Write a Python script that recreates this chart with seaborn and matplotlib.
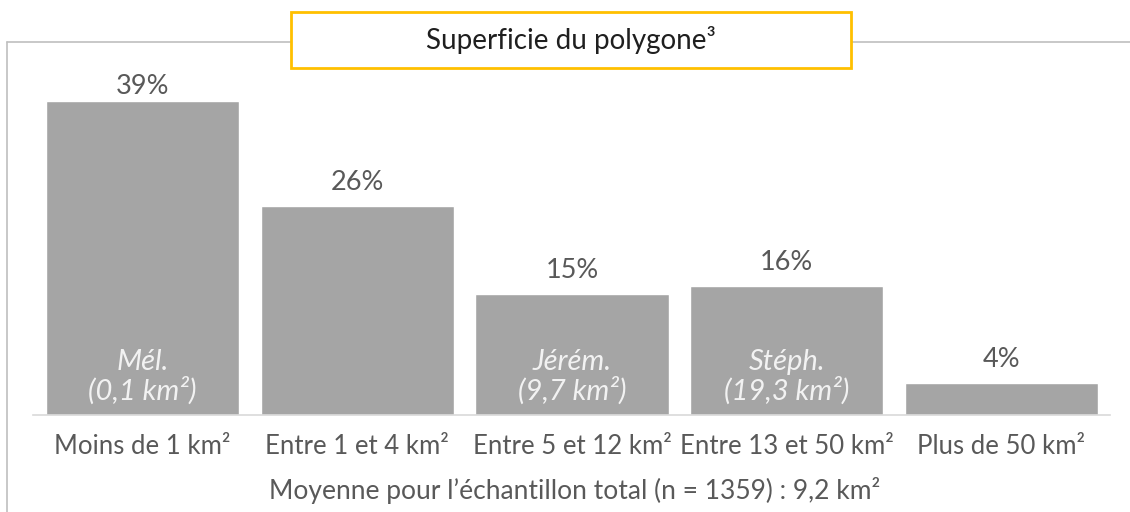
import matplotlib
matplotlib.use("Agg")
import matplotlib.pyplot as plt
import seaborn as sns
import pandas as pd
from matplotlib.patches import Rectangle
from matplotlib.lines import Line2D

categories = ["Moins de 1 km²", "Entre 1 et 4 km²", "Entre 5 et 12 km²", "Entre 13 et 50 km²", "Plus de 50 km²"]
values = [39, 26, 15, 16, 4]
value_labels = ["39%", "26%", "15%", "16%", "4%"]
inner_labels = ["Mél.\n(0,1 km²)", "", "Jérém.\n(9,7 km²)", "Stéph.\n(19,3 km²)", ""]
title = "Superficie du polygone³"
footnote = "Moyenne pour l’échantillon total (n = 1359) : 9,2 km²"

sns.set_theme(style="white")
plt.rcParams['font.family'] = ['Lato', 'DejaVu Sans']

W, H = 1130, 512
fig = plt.figure(figsize=(W / 100, H / 100), dpi=100)
# axes: x 33..1110 px, y 42..415 px
ax = fig.add_axes([33 / W, 1 - 415 / H, (1110 - 33) / W, (415 - 42) / H])

df = pd.DataFrame({"cat": categories, "val": values})
sns.barplot(data=df, x="cat", y="val", color="#a5a5a5", width=0.9, saturation=1, ax=ax)
ax.set_xlim(-0.51, 4.505)
ax.set_ylim(0, 46.3)

for s in ["top", "right", "left"]:
    ax.spines[s].set_visible(False)
ax.spines["bottom"].set_color("#d9d9d9")
ax.spines["bottom"].set_linewidth(1.2)
ax.set_yticks([])
ax.set_xlabel("")
ax.set_ylabel("")
ax.tick_params(axis="x", length=0, pad=14, labelsize=18.5, labelcolor="#595959")

label_cap = 40.8
for i, (v, lab) in enumerate(zip(values, value_labels)):
    ax.text(i, min(v + 2.9, label_cap), lab, ha="center", va="center",
            fontsize=19.5, color="#595959")
    if inner_labels[i]:
        ax.text(i, 4.75, inner_labels[i], ha="center", va="center", fontsize=21,
                style="italic", color="#f2f2f2", linespacing=1.05)

fig.text(575 / W, 1 - 491 / H, footnote, ha="center", va="center", fontsize=19, color="#595959")

# outer frame lines
fig.add_artist(Line2D([7 / W, 1], [1 - 42 / H, 1 - 42 / H], color="#bfbfbf", lw=1.2, zorder=1))
fig.add_artist(Line2D([7 / W, 7 / W], [0, 1 - 42 / H], color="#bfbfbf", lw=1.2, zorder=1))

# title box
fig.add_artist(Rectangle((291 / W, 1 - 68 / H), (851 - 291) / W, (68 - 12) / H,
                         facecolor="white", edgecolor="#ffc000", lw=2, zorder=5,
                         transform=fig.transFigure))
fig.text(571 / W, 1 - 40 / H, title, ha="center", va="center", fontsize=20, color="#1f1f1f", zorder=6)

fig.savefig("out.png", dpi=100)
